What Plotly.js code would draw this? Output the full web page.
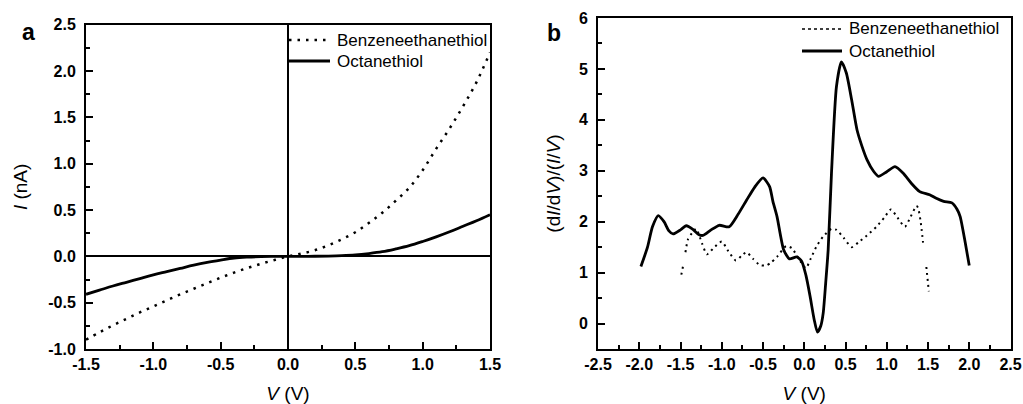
<!DOCTYPE html>
<html>
<head>
<meta charset="utf-8">
<script src="https://cdn.plot.ly/plotly-3.0.1.min.js"></script>
<style>html,body{margin:0;padding:0;background:#fff;}#chart{width:1023px;height:404px;}</style>
</head>
<body>
<div id="chart"></div>
<script>
// Panel a: I-V curves
const ivVoltage = [-1.5,-1.4,-1.3,-1.2,-1.1,-1.0,-0.9,-0.8,-0.7,-0.6,-0.5,-0.4,-0.3,-0.2,-0.1,0,0.1,0.2,0.3,0.4,0.5,0.6,0.7,0.8,0.9,1.0,1.1,1.2,1.3,1.4,1.5];
const ivBenzene = [-0.90,-0.82,-0.745,-0.675,-0.605,-0.54,-0.475,-0.41,-0.35,-0.29,-0.23,-0.175,-0.125,-0.08,-0.04,0,0.03,0.066,0.12,0.185,0.26,0.36,0.47,0.60,0.74,0.93,1.16,1.38,1.62,1.88,2.2];
const ivOctane = [-0.41,-0.365,-0.32,-0.28,-0.24,-0.20,-0.165,-0.13,-0.095,-0.065,-0.04,-0.018,-0.008,-0.003,-0.001,0,0,0.001,0.003,0.007,0.015,0.03,0.05,0.08,0.115,0.16,0.21,0.265,0.325,0.385,0.45];

// Panel b: normalized conductance
const ncOctV = [-1.98,-1.9,-1.84,-1.77,-1.7,-1.64,-1.59,-1.5,-1.43,-1.35,-1.28,-1.23,-1.13,-1.03,-0.91,-0.8,-0.7,-0.6,-0.5,-0.42,-0.38,-0.33,-0.25,-0.18,-0.09,-0.03,0.02,0.07,0.12,0.16,0.2,0.23,0.26,0.29,0.33,0.39,0.45,0.51,0.575,0.64,0.7,0.76,0.84,0.9,1.0,1.1,1.2,1.3,1.4,1.52,1.6,1.69,1.79,1.85,1.89,1.95,2.0];
const ncOct = [1.12,1.5,1.9,2.12,2.0,1.82,1.76,1.84,1.92,1.85,1.75,1.73,1.84,1.93,1.90,2.15,2.42,2.68,2.86,2.69,2.4,2.10,1.45,1.27,1.31,1.22,0.95,0.54,0.08,-0.17,-0.05,0.21,0.8,1.45,2.95,4.65,5.14,4.92,4.39,3.80,3.48,3.22,2.99,2.89,2.98,3.08,2.95,2.75,2.59,2.53,2.46,2.40,2.37,2.25,2.10,1.6,1.14];
const ncBenzV = [-1.49,-1.47,-1.455,-1.44,-1.41,-1.36,-1.31,-1.24,-1.18,-1.1,-1.0,-0.92,-0.83,-0.76,-0.70,-0.62,-0.54,-0.46,-0.40,-0.33,-0.22,-0.15,-0.07,0.02,0.08,0.15,0.23,0.33,0.39,0.48,0.575,0.66,0.76,0.88,0.97,1.05,1.13,1.22,1.29,1.36,1.38,1.41,1.44,1.46,1.48,1.51];
const ncBenz = [0.96,1.12,null,1.40,1.65,1.78,1.86,1.58,1.36,1.48,1.61,1.42,1.24,1.33,1.40,1.27,1.15,1.14,1.2,1.31,1.52,1.48,1.28,1.09,1.28,1.52,1.71,1.86,1.84,1.68,1.50,1.60,1.73,1.91,2.08,2.24,2.08,1.90,2.10,2.31,2.27,2.01,1.59,null,1.11,0.63];

// Tick labels
const axTicksA = [-1.5,-1.0,-0.5,0,0.5,1.0,1.5];
const axLabelsA = ['-1.5','-1.0','-0.5','0.0','0.5','1.0','1.5'];
const ayTicksA = [-1.0,-0.5,0,0.5,1.0,1.5,2.0,2.5];
const ayLabelsA = ['-1.0','-0.5','0.0','0.5','1.0','1.5','2.0','2.5'];
const axTicksB = [-2.5,-2.0,-1.5,-1.0,-0.5,0,0.5,1.0,1.5,2.0,2.5];
const axLabelsB = ['-2.5','-2.0','-1.5','-1.0','-0.5','0.0','0.5','1.0','1.5','2.0','2.5'];
const ayTicksB = [0,1,2,3,4,5,6];
const ayLabelsB = ['0','1','2','3','4','5','6'];
const seriesNames = ['Benzeneethanethiol', 'Octanethiol'];

const FONT = 'Liberation Sans, Arial, sans-serif';
const tickFont = {family: FONT, size: 16, color: '#000', weight: 'bold'};
const titleFont = {family: FONT, size: 19, color: '#000'};
const W = 1023, H = 404;
const M = {l: 60, r: 10, t: 10, b: 50};
const PW = W - M.l - M.r, PH = H - M.t - M.b;
// pixel -> paper fraction (relative to plot area)
const px = v => (v - M.l) / PW;
const py = v => (H - M.b - v) / PH;

function axisBase(extra) {
  return Object.assign({
    showline: true, linecolor: '#000', linewidth: 2, mirror: true,
    ticks: 'inside', ticklen: 7, tickwidth: 2, tickcolor: '#000',
    showgrid: true, gridcolor: 'rgba(0,0,0,0)', zeroline: false, tickmode: 'array',
    tickfont: tickFont
  }, extra);
}
const minorTicks = d => ({dtick: d, tick0: 0, ticks: 'inside', ticklen: 4, tickwidth: 2, tickcolor: '#000', showgrid: false});

const traces = [
  {x: ivVoltage, y: ivBenzene, name: seriesNames[0], type: 'scatter', mode: 'lines',
   line: {color: '#000', width: 2.5, dash: '2.5px,6px', shape: 'spline'}, xaxis: 'x', yaxis: 'y'},
  {x: ivVoltage, y: ivOctane, name: seriesNames[1], type: 'scatter', mode: 'lines',
   line: {color: '#000', width: 2.8, shape: 'spline'}, xaxis: 'x', yaxis: 'y'},
  {x: ncBenzV, y: ncBenz, name: seriesNames[0], type: 'scatter', mode: 'lines', connectgaps: false,
   line: {color: '#000', width: 2, dash: '2px,4px', shape: 'spline', smoothing: 0.6}, xaxis: 'x2', yaxis: 'y2'},
  {x: ncOctV, y: ncOct, name: seriesNames[1], type: 'scatter', mode: 'lines',
   line: {color: '#000', width: 2.8, shape: 'spline', smoothing: 0.6}, xaxis: 'x2', yaxis: 'y2'}
];

const legFont = {family: FONT, size: 17, color: '#000'};
function legendText(txt, xPix, yPix) {
  return {text: txt, xref: 'paper', yref: 'paper', x: px(xPix), y: py(yPix), showarrow: false,
    xanchor: 'left', yanchor: 'middle', font: legFont};
}
function legendLine(x0, x1, yPix, dash, width) {
  return {type: 'line', xref: 'paper', yref: 'paper', x0: px(x0), x1: px(x1), y0: py(yPix), y1: py(yPix),
    line: {color: '#000', width: width, dash: dash}};
}

const layout = {
  width: W, height: H,
  margin: M,
  paper_bgcolor: '#fff', plot_bgcolor: '#fff',
  showlegend: false,
  xaxis: axisBase({domain: [px(86), px(490)], range: [-1.5, 1.5], tickvals: axTicksA, ticktext: axLabelsA,
    zeroline: true, zerolinecolor: '#000', zerolinewidth: 1.5, minor: minorTicks(0.25),
    title: {text: '<i>V</i> (V)', font: titleFont, standoff: 14}, anchor: 'y'}),
  yaxis: axisBase({domain: [py(349), py(24.7)], range: [-1.0, 2.5], tickvals: ayTicksA, ticktext: ayLabelsA,
    zeroline: true, zerolinecolor: '#000', zerolinewidth: 1.5, minor: minorTicks(0.25), ticklabelstandoff: 5,
    title: {text: '<i>I</i> (nA)', font: titleFont, standoff: 16}, anchor: 'x'}),
  xaxis2: axisBase({domain: [px(598), px(1010.5)], range: [-2.5, 2.5], tickvals: axTicksB, ticktext: axLabelsB,
    minor: minorTicks(0.25),
    title: {text: '<i>V</i> (V)', font: titleFont, standoff: 14}, anchor: 'y2'}),
  yaxis2: axisBase({domain: [py(349), py(18)], range: [-0.5, 6], tickvals: ayTicksB, ticktext: ayLabelsB,
    minor: minorTicks(0.5), ticklabelstandoff: 5,
    title: {text: '(d<i>I</i>/d<i>V</i>)/(<i>I</i>/<i>V</i>)', font: titleFont, standoff: 13}, anchor: 'x2'}),
  shapes: [
    legendLine(289, 330, 40, '2.5px,6px', 2.5),
    legendLine(289, 330, 61, 'solid', 2.8),
    legendLine(802, 842, 29, 'dot', 1.5),
    legendLine(802, 842, 51, 'solid', 2.8)
  ],
  annotations: [
    legendText(seriesNames[0], 335, 40),
    legendText(seriesNames[1], 335, 61),
    legendText(seriesNames[0], 847, 29),
    legendText(seriesNames[1], 847, 51),
    {text: '<b>a</b>', xref: 'paper', yref: 'paper', x: px(28.5), y: py(32), showarrow: false,
     xanchor: 'center', yanchor: 'middle', font: {family: FONT, size: 23, color: '#000'}},
    {text: '<b>b</b>', xref: 'paper', yref: 'paper', x: px(554), y: py(33), showarrow: false,
     xanchor: 'center', yanchor: 'middle', font: {family: FONT, size: 23, color: '#000'}}
  ]
};

Plotly.newPlot('chart', traces, layout, {displayModeBar: false});
</script>
</body>
</html>
